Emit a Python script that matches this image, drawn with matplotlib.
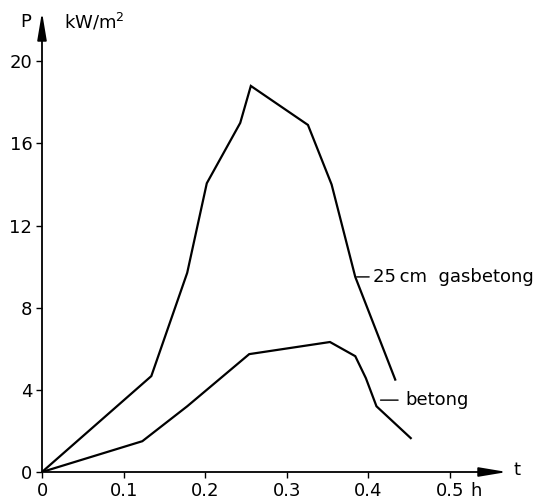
import matplotlib
matplotlib.use("Agg")
import matplotlib.pyplot as plt

plt.rcParams['font.family'] = ['DejaVu Sans']

# 25 cm gasbetong
t_gas = [0.0, 0.134, 0.178, 0.202, 0.243, 0.256, 0.326, 0.355, 0.384, 0.433]
p_gas = [0.0, 4.67, 9.7, 14.06, 17.0, 18.8, 16.9, 14.0, 9.5, 4.5]

# betong
t_bet = [0.0, 0.123, 0.178, 0.254, 0.353, 0.384, 0.397, 0.410, 0.452]
p_bet = [0.0, 1.5, 3.2, 5.74, 6.33, 5.64, 4.57, 3.2, 1.65]

xticks = [0, 0.1, 0.2, 0.3, 0.4, 0.5]
xlabels = ['0', '0.1', '0.2', '0.3', '0.4', '0.5']
yticks = [0, 4, 8, 12, 16, 20]

fs = 13

fig = plt.figure(figsize=(5.45, 5.04), dpi=100)
ax = fig.add_axes([42/545, 32/504, (507-42)/545, (472-12)/504])

ax.plot(t_gas, p_gas, color='black', lw=1.6, solid_joinstyle='miter')
ax.plot(t_bet, p_bet, color='black', lw=1.6, solid_joinstyle='miter')

ax.set_xlim(0, 0.57)
ax.set_ylim(0, 22.4)
for s in ax.spines.values():
    s.set_visible(False)

# axes with arrow heads
arrow = dict(arrowstyle='-|>,head_length=1.2,head_width=0.2', color='black',
             lw=1.3, shrinkA=0, shrinkB=0, mutation_scale=14)
ax.annotate('', xy=(1, 0), xytext=(0, 0), xycoords='axes fraction', arrowprops=arrow)
ax.annotate('', xy=(0, 1), xytext=(0, 0), xycoords='axes fraction', arrowprops=arrow)

ax.set_xticks(xticks)
ax.set_xticklabels(xlabels)
ax.set_yticks(yticks)
ax.tick_params(direction='out', length=4, width=1, labelsize=fs, pad=3)

ax.annotate('h', xy=(0.5, 0), xytext=(15, -7), textcoords='offset points',
            fontsize=fs, ha='left', va='top', annotation_clip=False)

fig.text(20/545, 1 - 22/504, 'P', fontsize=fs, ha='left', va='center')
fig.text(64/545, 1 - 22/504, 'kW/m$^2$', fontsize=fs, ha='left', va='center')
fig.text(514/545, 1 - 470/504, 't', fontsize=fs, ha='left', va='center')

ax.annotate('25\u2009cm  gasbetong', xy=(t_gas[8], p_gas[8]), xytext=(13, 0),
            textcoords='offset points', fontsize=fs, ha='left', va='center',
            arrowprops=dict(arrowstyle='-', lw=1, shrinkA=1, shrinkB=1),
            annotation_clip=False)
ax.annotate('betong', xy=(0.415, 3.5), xytext=(0.445, 3.5), textcoords='data',
            fontsize=fs, ha='left', va='center',
            arrowprops=dict(arrowstyle='-', lw=1, shrinkA=3, shrinkB=0))

fig.savefig('out.png', dpi=100)
